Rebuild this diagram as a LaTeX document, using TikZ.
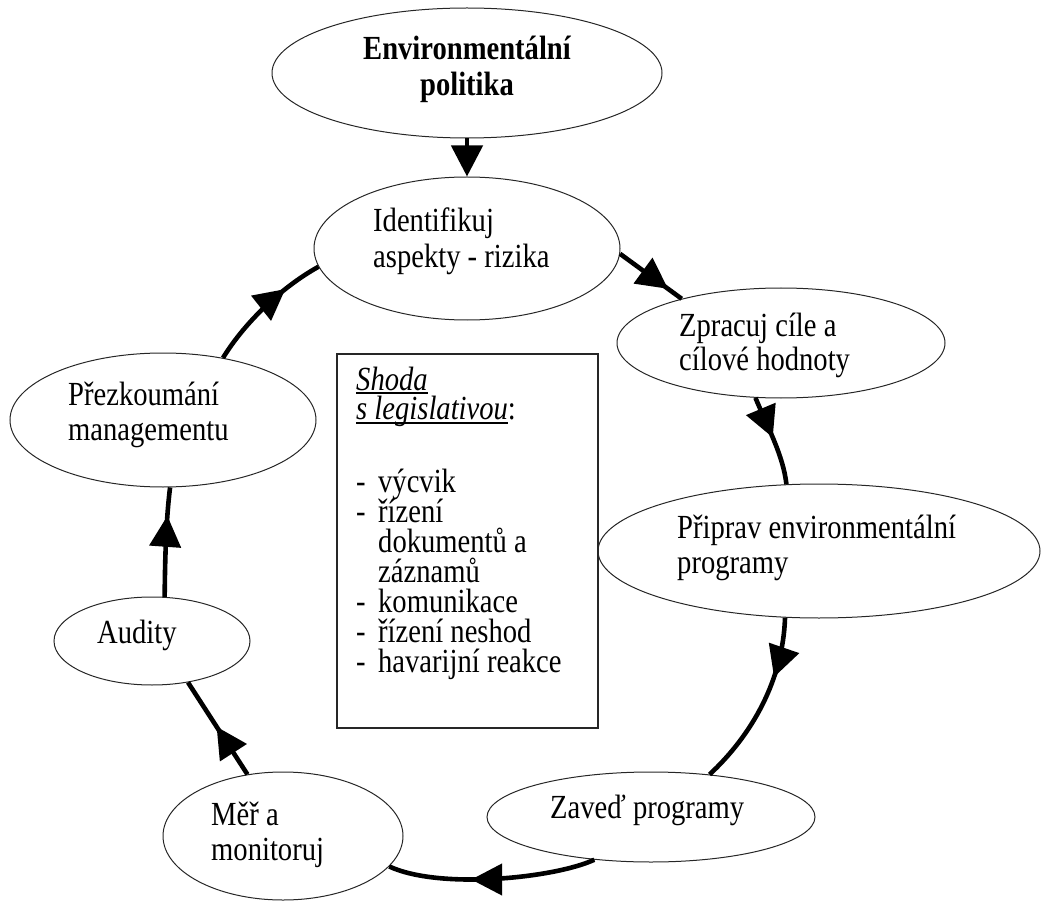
\documentclass[tikz,border=0pt]{standalone}
\usepackage{fontspec}
\setmainfont{Liberation Serif}
\usepackage{graphicx}
\usetikzlibrary{shapes.geometric,arrows.meta,decorations.markings}
\newcommand\stxt[2]{\scalebox{1}[1.18]{\vtop{\baselineskip=#1\lineskiplimit=-100pt\lineskip=0pt\halign{##\hfil\cr #2\crcr}}}}
\newcommand\ctxt[2]{\scalebox{1}[1.18]{\vtop{\baselineskip=#1\lineskiplimit=-100pt\lineskip=0pt\halign{\hfil##\hfil\cr #2\crcr}}}}
\newcommand\myul[1]{\setbox0=\hbox{#1}\rlap{\vrule height -2pt depth 3.4pt width \wd0}\box0}
\newcommand\dash{\makebox[22pt][l]{-}}
\tikzset{
  oval/.style={ellipse, draw=black!85, line width=1pt, inner sep=0pt},
  txt/.style={inner sep=0pt, anchor=base west, font=\fontsize{28.6}{30}\selectfont},
  conn/.style={line width=4.6pt, black},
  tipat/.style={postaction={decorate}, decoration={markings, mark=at position #1 with {\arrow{Triangle[length=31pt,width=31pt]}}}}
}
\begin{document}
\begin{tikzpicture}[x=1pt,y=-1pt]
\useasboundingbox (0,0) rectangle (1044,901);
% ellipses
\node[oval, minimum width=390pt, minimum height=130pt] (pol) at (467,73) {};
\node[oval, minimum width=306pt, minimum height=143pt] (ident) at (467,248.5) {};
\node[oval, minimum width=328pt, minimum height=110pt] (zprac) at (781,343) {};
\node[oval, minimum width=442pt, minimum height=134pt] (pripr) at (819,551) {};
\node[oval, minimum width=328pt, minimum height=90pt] (zaved) at (651,817) {};
\node[oval, minimum width=240pt, minimum height=128pt] (mer) at (283,836) {};
\node[oval, minimum width=196pt, minimum height=88pt] (audit) at (152,641) {};
\node[oval, minimum width=306pt, minimum height=134pt] (prez) at (163,420) {};
% box
\node[draw=black!85, line width=1.3pt, minimum width=261pt, minimum height=374pt, inner sep=0pt] (box) at (467.5,541) {};
% texts
\node[txt, anchor=base, font=\fontsize{28.6}{30}\selectfont\bfseries] (tpol) at (467,60) {\ctxt{29.7pt}{Environmentální\cr politika}};
\node[txt] (tident) at (373,232) {\stxt{29.7pt}{Identifikuj\cr aspekty - rizika}};
\node[txt] (tzprac) at (679,337) {\stxt{28.5pt}{Zpracuj cíle a\cr cílové hodnoty}};
\node[txt] (tpripr) at (677,538) {\stxt{29.7pt}{Připrav environmentální\cr programy}};
\node[txt] (tzaved) at (550,818) {\stxt{29.7pt}{Zaveď programy}};
\node[txt] (tmer) at (211,825) {\stxt{29.7pt}{Měř a\cr monitoruj}};
\node[txt] (taudit) at (97,643) {\stxt{29.7pt}{Audity}};
\node[txt] (tprez) at (68,405) {\stxt{30.5pt}{Přezkoumání\cr managementu}};
\node[txt] (tbox) at (356,390) {\stxt{25.4pt}{\myul{\textit{Shoda}}\cr \myul{\textit{s legislativou}}:\cr \noalign{\vskip 36pt}\dash výcvik\cr \dash řízení\cr \hspace*{22pt}dokumentů a\cr \hspace*{22pt}záznamů\cr \dash komunikace\cr \dash řízení neshod\cr \dash havarijní reakce}};
% connectors
\draw[conn, -{Triangle[length=31pt,width=31pt]}] (pol.south) -- (ident.north);
\draw[conn, tipat=0.78] (ident.-2.5) -- (zprac.156);
\draw[conn, tipat=0.47] (zprac.245) .. controls (768,428) and (783,455) .. (pripr.116.6);
\draw[conn, tipat=0.34] (pripr.243) .. controls (783,680) and (752,735) .. (zaved.36.7);
\draw[conn, tipat=0.6] (zaved.217.7) .. controls (555,878) and (440,890) .. (mer.-16.6);
\draw[conn, tipat=0.52] (mer.120.5) -- (audit.-49.4);
\draw[conn, tipat=0.74] (audit.74.2) .. controls (165,560) and (166,520) .. (prez.-84);
\draw[conn, tipat=0.7] (prez.46) .. controls (245,322) and (282,287) .. (ident.187.4);
\end{tikzpicture}
\end{document}
